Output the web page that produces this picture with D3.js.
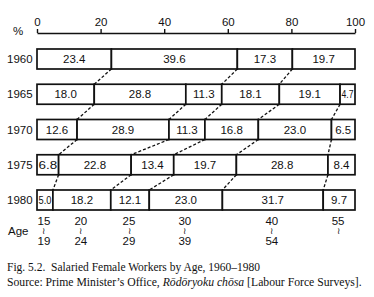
<!DOCTYPE html>
<html>
<head>
<meta charset="utf-8">
<style>
body { margin: 0; background: #fff; }
svg text { font-family: "Liberation Sans", Arial, sans-serif; fill: #111; }
.cap { font-family: "Liberation Serif", "Times New Roman", serif; }
</style>
</head>
<body>
<div id="chart"></div>
<script src="https://cdn.jsdelivr.net/npm/d3@7"></script>
<script>
// age groups (1960 merges some of them)
var ageFrom = ["15", "20", "25", "30", "40", "55"];
var ageTo = ["19", "24", "29", "39", "54", ""];
var years = ["1960", "1965", "1970", "1975", "1980"];
var shares = {
  "1960": [23.4, 39.6, 17.3, 19.7],
  "1965": [18.0, 28.8, 11.3, 18.1, 19.1, 4.7],
  "1970": [12.6, 28.9, 11.3, 16.8, 23.0, 6.5],
  "1975": [6.8, 22.8, 13.4, 19.7, 28.8, 8.4],
  "1980": [5.0, 18.2, 12.1, 23.0, 31.7, 9.7]
};
// index of the last age group covered by each segment
var lastGroup = {
  "1960": [0, 2, 3, 5],
  "1965": [0, 1, 2, 3, 4, 5],
  "1970": [0, 1, 2, 3, 4, 5],
  "1975": [0, 1, 2, 3, 4, 5],
  "1980": [0, 1, 2, 3, 4, 5]
};
var ticks = [0, 20, 40, 60, 80, 100];

var W = 374, H = 297, barH = 20;
var x = d3.scaleLinear().domain([0, 100]).range([37, 355]);
var y = d3.scalePoint().domain(years).range([49, 190]);

var svg = d3.select("#chart").append("svg").attr("width", W).attr("height", H);

// axis on top, ticks pointing up
var ax = svg.append("g").attr("transform", "translate(0,33)")
  .call(d3.axisTop(x).tickValues(ticks).tickSize(4).tickSizeOuter(0).tickPadding(3));
ax.select(".domain").attr("stroke", "#111").attr("stroke-width", 1.6);
ax.selectAll(".tick line").attr("stroke", "#111").attr("stroke-width", 1.4);
ax.selectAll(".tick text").attr("font-size", 11.5).attr("fill", "#111")
  .style("font-family", "Liberation Sans, Arial, sans-serif");
svg.append("text").attr("x", 13).attr("y", 35).attr("font-size", 11.5).text("%");

// segment edges per year
var segs = {};
years.forEach(function(yr) {
  var c = 0;
  segs[yr] = shares[yr].map(function(v, i) {
    var s = { v: v, x0: c, x1: c + v, g: lastGroup[yr][i] };
    c += v;
    return s;
  });
  segs[yr][segs[yr].length - 1].x1 = 100;
});

// dashed connectors between matching boundaries
for (var k = 0; k < years.length - 1; k++) {
  var a = years[k], b = years[k + 1];
  segs[a].slice(0, -1).forEach(function(sa) {
    var sb = segs[b].find(function(s) { return s.g === sa.g; });
    if (!sb) return;
    svg.append("line")
      .attr("x1", x(sa.x1)).attr("y1", y(a) + barH)
      .attr("x2", x(sb.x1)).attr("y2", y(b))
      .attr("stroke", "#111").attr("stroke-width", 1.3)
      .attr("stroke-dasharray", "3,2");
  });
}

years.forEach(function(yr) {
  var g = svg.append("g");
  g.append("text").attr("x", 7).attr("y", y(yr) + barH / 2 + 4)
    .attr("font-size", 11.5).text(yr);
  g.selectAll("rect").data(segs[yr]).join("rect")
    .attr("x", function(d) { return x(d.x0); })
    .attr("y", y(yr))
    .attr("width", function(d) { return x(d.x1) - x(d.x0); })
    .attr("height", barH)
    .attr("fill", "#fff").attr("stroke", "#111").attr("stroke-width", 1.7);
  g.selectAll("text.v").data(segs[yr]).join("text").attr("class", "v")
    .attr("x", function(d) { return (x(d.x0) + x(d.x1)) / 2; })
    .attr("y", y(yr) + barH / 2 + 4)
    .attr("text-anchor", "middle").attr("font-size", 11.5)
    .each(function(d) {
      var w = x(d.x1) - x(d.x0);
      d3.select(this).text(d.v.toFixed(1));
      if (w < 22) d3.select(this).attr("textLength", w - 3).attr("lengthAdjust", "spacingAndGlyphs");
    });
});

// age labels under the 1980 segments
var ageY = 225;
svg.append("text").attr("x", 8).attr("y", 235).attr("font-size", 11.5).text("Age");
segs["1980"].forEach(function(d, i) {
  var cx = (x(d.x0) + x(d.x1)) / 2 - 1;
  svg.append("text").attr("x", cx).attr("y", ageY).attr("text-anchor", "middle")
    .attr("font-size", 11.5).text(ageFrom[i]);
  svg.append("text").attr("x", cx).attr("y", ageY + 9).attr("text-anchor", "middle")
    .attr("font-size", 9).text("≀");
  if (ageTo[i]) svg.append("text").attr("x", cx).attr("y", ageY + 20).attr("text-anchor", "middle")
    .attr("font-size", 11.5).text(ageTo[i]);
});

// caption
var cap = svg.append("g").attr("class", "cap");
cap.append("text").attr("class", "cap").attr("x", 7).attr("y", 271).attr("font-size", 11.5)
  .text("Fig. 5.2.\u00a0 Salaried Female Workers by Age, 1960\u20131980");
var src = cap.append("text").attr("class", "cap").attr("x", 7).attr("y", 286).attr("font-size", 11.7);
src.append("tspan").text("Source: Prime Minister\u2019s Office, ");
src.append("tspan").attr("font-style", "italic").text("R\u014dd\u014dryoku ch\u014dsa");
src.append("tspan").text(" [Labour Force Surveys].");
</script>
</body>
</html>
